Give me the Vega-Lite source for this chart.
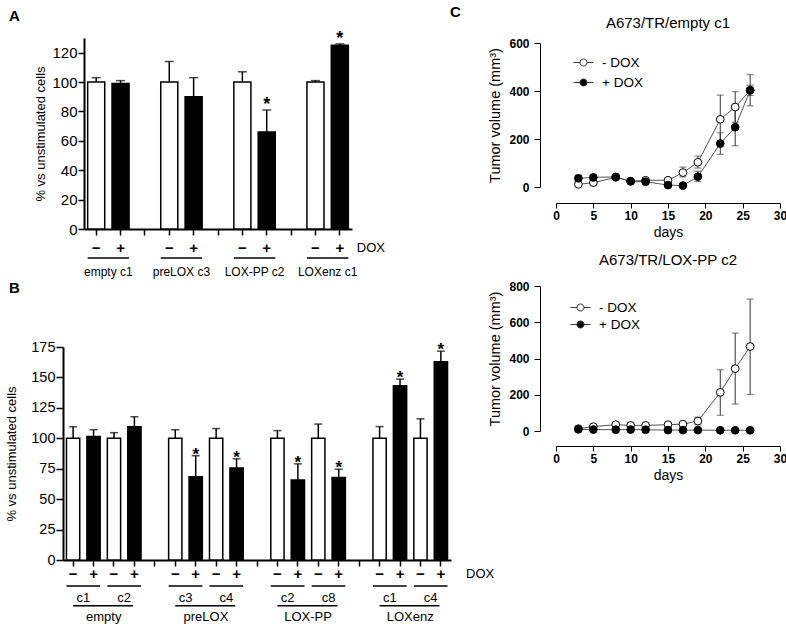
{
"$schema": "https://vega.github.io/schema/vega-lite/v6.json",
"config": {
 "font": "Liberation Sans",
 "view": {"stroke": null},
 "axis": {"grid": false, "domainColor": "black", "tickColor": "black", "labelColor": "black", "titleColor": "black", "titleFontWeight": "normal", "labelOverlap": false, "labelFlush": false, "tickCount": 30},
 "title": {"color": "black"}
},
"datasets": {
 "aBars": [
  {"slot": "e1-", "dox": "−", "mean": 100, "hi": 103, "sig": ""},
  {"slot": "e1+", "dox": "+", "mean": 99, "hi": 101, "sig": ""},
  {"slot": "p3-", "dox": "−", "mean": 100, "hi": 114, "sig": ""},
  {"slot": "p3+", "dox": "+", "mean": 90, "hi": 103, "sig": ""},
  {"slot": "x2-", "dox": "−", "mean": 100, "hi": 107, "sig": ""},
  {"slot": "x2+", "dox": "+", "mean": 66, "hi": 81, "sig": "*"},
  {"slot": "z1-", "dox": "−", "mean": 100, "hi": 101, "sig": ""},
  {"slot": "z1+", "dox": "+", "mean": 125, "hi": 126, "sig": "*"}
 ],
 "aGroups": [
  {"from": "e1-", "to": "e1+", "label": "empty c1"},
  {"from": "p3-", "to": "p3+", "label": "preLOX c3"},
  {"from": "x2-", "to": "x2+", "label": "LOX-PP c2"},
  {"from": "z1-", "to": "z1+", "label": "LOXenz c1"}
 ],
 "aDox": [{"slot": "z1+", "label": "DOX"}],
 "bBars": [
  {"slot": "E1-", "dox": "−", "mean": 100, "hi": 109.5, "sig": ""},
  {"slot": "E1+", "dox": "+", "mean": 101.5, "hi": 107, "sig": ""},
  {"slot": "E2-", "dox": "−", "mean": 100, "hi": 104.6, "sig": ""},
  {"slot": "E2+", "dox": "+", "mean": 109.5, "hi": 117.7, "sig": ""},
  {"slot": "P3-", "dox": "−", "mean": 100, "hi": 107, "sig": ""},
  {"slot": "P3+", "dox": "+", "mean": 68.5, "hi": 85.7, "sig": "*"},
  {"slot": "P4-", "dox": "−", "mean": 100, "hi": 108, "sig": ""},
  {"slot": "P4+", "dox": "+", "mean": 75.5, "hi": 83.2, "sig": "*"},
  {"slot": "L2-", "dox": "−", "mean": 100, "hi": 106.3, "sig": ""},
  {"slot": "L2+", "dox": "+", "mean": 65.8, "hi": 79, "sig": "*"},
  {"slot": "L8-", "dox": "−", "mean": 100, "hi": 111.7, "sig": ""},
  {"slot": "L8+", "dox": "+", "mean": 67.8, "hi": 74.6, "sig": "*"},
  {"slot": "Z1-", "dox": "−", "mean": 100, "hi": 109.6, "sig": ""},
  {"slot": "Z1+", "dox": "+", "mean": 143.2, "hi": 148.6, "sig": "*"},
  {"slot": "Z4-", "dox": "−", "mean": 100, "hi": 116, "sig": ""},
  {"slot": "Z4+", "dox": "+", "mean": 162.8, "hi": 171.6, "sig": "*"}
 ],
 "bClones": [
  {"from": "E1-", "to": "E1+", "label": "c1"},
  {"from": "E2-", "to": "E2+", "label": "c2"},
  {"from": "P3-", "to": "P3+", "label": "c3"},
  {"from": "P4-", "to": "P4+", "label": "c4"},
  {"from": "L2-", "to": "L2+", "label": "c2"},
  {"from": "L8-", "to": "L8+", "label": "c8"},
  {"from": "Z1-", "to": "Z1+", "label": "c1"},
  {"from": "Z4-", "to": "Z4+", "label": "c4"}
 ],
 "bGroups": [
  {"from": "E1-", "to": "E2+", "label": "empty"},
  {"from": "P3-", "to": "P4+", "label": "preLOX"},
  {"from": "L2-", "to": "L8+", "label": "LOX-PP"},
  {"from": "Z1-", "to": "Z4+", "label": "LOXenz"}
 ],
 "bDox": [{"slot": "Z4+", "label": "DOX"}],
 "c1": [
  {"day": 3, "treat": "- DOX", "mean": 11, "lo": 6, "hi": 16},
  {"day": 5, "treat": "- DOX", "mean": 18, "lo": 13, "hi": 23},
  {"day": 8, "treat": "- DOX", "mean": 40, "lo": 32, "hi": 48},
  {"day": 10, "treat": "- DOX", "mean": 24, "lo": 20, "hi": 28},
  {"day": 12, "treat": "- DOX", "mean": 28, "lo": 24, "hi": 33},
  {"day": 15, "treat": "- DOX", "mean": 28, "lo": 22, "hi": 34},
  {"day": 17, "treat": "- DOX", "mean": 60, "lo": 42, "hi": 83},
  {"day": 19, "treat": "- DOX", "mean": 103, "lo": 79, "hi": 129},
  {"day": 22, "treat": "- DOX", "mean": 282, "lo": 181, "hi": 383},
  {"day": 24, "treat": "- DOX", "mean": 333, "lo": 270, "hi": 397},
  {"day": 26, "treat": "- DOX", "mean": 403, "lo": 338, "hi": 468},
  {"day": 3, "treat": "+ DOX", "mean": 36, "lo": 23, "hi": 49},
  {"day": 5, "treat": "+ DOX", "mean": 40, "lo": 33, "hi": 47},
  {"day": 8, "treat": "+ DOX", "mean": 42, "lo": 35, "hi": 49},
  {"day": 10, "treat": "+ DOX", "mean": 24, "lo": 20, "hi": 28},
  {"day": 12, "treat": "+ DOX", "mean": 22, "lo": 17, "hi": 27},
  {"day": 15, "treat": "+ DOX", "mean": 8, "lo": 5, "hi": 11},
  {"day": 17, "treat": "+ DOX", "mean": 6, "lo": 3, "hi": 9},
  {"day": 19, "treat": "+ DOX", "mean": 43, "lo": 22, "hi": 66},
  {"day": 22, "treat": "+ DOX", "mean": 181, "lo": 136, "hi": 226},
  {"day": 24, "treat": "+ DOX", "mean": 249, "lo": 172, "hi": 326},
  {"day": 26, "treat": "+ DOX", "mean": 403, "lo": 381, "hi": 424}
 ],
 "c2": [
  {"day": 3, "treat": "- DOX", "mean": 13, "lo": 8, "hi": 18},
  {"day": 5, "treat": "- DOX", "mean": 24, "lo": 19, "hi": 29},
  {"day": 8, "treat": "- DOX", "mean": 35, "lo": 28, "hi": 42},
  {"day": 10, "treat": "- DOX", "mean": 31, "lo": 25, "hi": 37},
  {"day": 12, "treat": "- DOX", "mean": 31, "lo": 25, "hi": 37},
  {"day": 15, "treat": "- DOX", "mean": 35, "lo": 28, "hi": 42},
  {"day": 17, "treat": "- DOX", "mean": 38, "lo": 30, "hi": 46},
  {"day": 19, "treat": "- DOX", "mean": 55, "lo": 34, "hi": 76},
  {"day": 22, "treat": "- DOX", "mean": 213, "lo": 87, "hi": 338},
  {"day": 24, "treat": "- DOX", "mean": 344, "lo": 149, "hi": 540},
  {"day": 26, "treat": "- DOX", "mean": 466, "lo": 202, "hi": 728},
  {"day": 3, "treat": "+ DOX", "mean": 9, "lo": 7, "hi": 11},
  {"day": 5, "treat": "+ DOX", "mean": 8, "lo": 6, "hi": 10},
  {"day": 8, "treat": "+ DOX", "mean": 7, "lo": 5, "hi": 9},
  {"day": 10, "treat": "+ DOX", "mean": 8, "lo": 6, "hi": 10},
  {"day": 12, "treat": "+ DOX", "mean": 7, "lo": 5, "hi": 9},
  {"day": 15, "treat": "+ DOX", "mean": 5, "lo": 3, "hi": 7},
  {"day": 17, "treat": "+ DOX", "mean": 5, "lo": 3, "hi": 7},
  {"day": 19, "treat": "+ DOX", "mean": 5, "lo": 3, "hi": 7},
  {"day": 22, "treat": "+ DOX", "mean": 4, "lo": 2, "hi": 6},
  {"day": 24, "treat": "+ DOX", "mean": 4, "lo": 2, "hi": 6},
  {"day": 26, "treat": "+ DOX", "mean": 4, "lo": 2, "hi": 6}
 ]
},
"hconcat": [
 {
  "vconcat": [
   {
    "width": 268, "height": 191,
    "title": {"text": "A", "anchor": "start", "frame": "group", "dx": -75, "offset": 6, "fontSize": 15, "fontWeight": "bold"},
    "layer": [
     {"data": {"name": "aBars"},
      "mark": {"type": "bar", "stroke": "black", "strokeWidth": 1.5},
      "encoding": {
       "x": {"field": "slot", "type": "nominal", "scale": {"type": "band", "domain": ["e1-","e1+","gA1","p3-","p3+","gA2","x2-","x2+","gA3","z1-","z1+"], "paddingInner": 0.3, "paddingOuter": 0.15}, "axis": {"labels": false, "title": null, "tickSize": 6, "tickWidth": 1.5, "domainWidth": 2}},
       "y": {"field": "mean", "type": "quantitative", "scale": {"domain": [0, 130], "nice": false}, "axis": {"values": [0,20,40,60,80,100,120], "tickCount": 30, "labelOverlap": false, "labelFontSize": 15, "tickSize": 6, "tickWidth": 1.5, "labelPadding": 1, "domainWidth": 2, "title": "% vs unstimulated cells", "titleFontSize": 13, "titlePadding": 4}},
       "fill": {"field": "dox", "type": "nominal", "scale": {"domain": ["−", "+"], "range": ["white", "black"]}, "legend": null}
      }},
     {"data": {"name": "aBars"},
      "mark": {"type": "rule", "strokeWidth": 1.5, "color": "black"},
      "encoding": {"x": {"field": "slot", "type": "nominal"}, "y": {"field": "mean", "type": "quantitative"}, "y2": {"field": "hi"}}},
     {"data": {"name": "aBars"},
      "mark": {"type": "tick", "orient": "horizontal", "size": 9, "thickness": 1.5, "color": "black"},
      "encoding": {"x": {"field": "slot", "type": "nominal"}, "y": {"field": "hi", "type": "quantitative"}}},
     {"data": {"name": "aBars"},
      "transform": [{"filter": "datum.sig == '*'"}],
      "mark": {"type": "text", "fontSize": 18, "fontWeight": "bold", "baseline": "alphabetic", "color": "black"},
      "encoding": {"x": {"field": "slot", "type": "nominal"}, "y": {"field": "hi", "type": "quantitative"}, "text": {"field": "sig"}}},
     {"data": {"name": "aBars"},
      "mark": {"type": "text", "fontSize": 15, "fontWeight": "bold", "baseline": "middle", "color": "black"},
      "encoding": {"x": {"field": "slot", "type": "nominal"}, "y": {"datum": -13, "type": "quantitative"}, "text": {"field": "dox"}}},
     {"data": {"name": "aDox"},
      "mark": {"type": "text", "fontSize": 13, "align": "left", "baseline": "middle", "color": "black"},
      "encoding": {"x": {"field": "slot", "type": "nominal", "bandPosition": 1.5}, "y": {"datum": -13, "type": "quantitative"}, "text": {"field": "label"}}},
     {"data": {"name": "aGroups"},
      "mark": {"type": "rule", "strokeWidth": 1.5, "color": "black"},
      "encoding": {"x": {"field": "from", "type": "nominal", "bandPosition": 0}, "x2": {"field": "to", "bandPosition": 1}, "y": {"datum": -19.7, "type": "quantitative"}}},
     {"data": {"name": "aGroups"},
      "mark": {"type": "text", "fontSize": 12, "baseline": "middle", "color": "black"},
      "encoding": {"x": {"field": "from", "type": "nominal", "bandPosition": 1.214}, "y": {"datum": -29, "type": "quantitative"}, "text": {"field": "label"}}}
    ]
   },
   {
    "width": 367, "height": 213,
    "title": {"text": "B", "anchor": "start", "frame": "group", "dx": -75, "offset": 43, "fontSize": 15, "fontWeight": "bold"},
    "layer": [
     {"data": {"name": "bBars"},
      "mark": {"type": "bar", "stroke": "black", "strokeWidth": 1.5},
      "encoding": {
       "x": {"field": "slot", "type": "nominal", "scale": {"type": "band", "domain": ["E1-","E1+","E2-","E2+","gB1","P3-","P3+","P4-","P4+","gB2","L2-","L2+","L8-","L8+","gB3","Z1-","Z1+","Z4-","Z4+"], "range": [-21, 367], "paddingInner": 0.35, "paddingOuter": 0.17}, "axis": {"labels": false, "title": null, "tickSize": 6, "tickWidth": 1.5, "domainWidth": 2}},
       "y": {"field": "mean", "type": "quantitative", "scale": {"domain": [0, 175], "nice": false}, "axis": {"values": [0,25,50,75,100,125,150,175], "tickCount": 30, "labelOverlap": false, "offset": 21, "labelFontSize": 14.5, "tickSize": 7, "tickWidth": 1.5, "labelPadding": 1, "domainWidth": 2, "title": "% vs unstimulated cells", "titleFontSize": 13, "titlePadding": 12}},
       "fill": {"field": "dox", "type": "nominal", "scale": {"domain": ["−", "+"], "range": ["white", "black"]}, "legend": null}
      }},
     {"data": {"name": "bBars"},
      "mark": {"type": "rule", "strokeWidth": 1.5, "color": "black"},
      "encoding": {"x": {"field": "slot", "type": "nominal"}, "y": {"field": "mean", "type": "quantitative"}, "y2": {"field": "hi"}}},
     {"data": {"name": "bBars"},
      "mark": {"type": "tick", "orient": "horizontal", "size": 8, "thickness": 1.5, "color": "black"},
      "encoding": {"x": {"field": "slot", "type": "nominal"}, "y": {"field": "hi", "type": "quantitative"}}},
     {"data": {"name": "bBars"},
      "transform": [{"filter": "datum.sig == '*'"}],
      "mark": {"type": "text", "fontSize": 17, "fontWeight": "bold", "baseline": "alphabetic", "dy": 4, "color": "black"},
      "encoding": {"x": {"field": "slot", "type": "nominal"}, "y": {"field": "hi", "type": "quantitative"}, "text": {"field": "sig"}}},
     {"data": {"name": "bBars"},
      "mark": {"type": "text", "fontSize": 15, "fontWeight": "bold", "baseline": "middle", "color": "black"},
      "encoding": {"x": {"field": "slot", "type": "nominal"}, "y": {"datum": -11.5, "type": "quantitative"}, "text": {"field": "dox"}}},
     {"data": {"name": "bDox"},
      "mark": {"type": "text", "fontSize": 13, "align": "left", "baseline": "middle", "color": "black"},
      "encoding": {"x": {"field": "slot", "type": "nominal", "bandPosition": 2.4}, "y": {"datum": -11.5, "type": "quantitative"}, "text": {"field": "label"}}},
     {"data": {"name": "bClones"},
      "mark": {"type": "rule", "strokeWidth": 1.5, "color": "black"},
      "encoding": {"x": {"field": "from", "type": "nominal", "bandPosition": 0}, "x2": {"field": "to", "bandPosition": 1}, "y": {"datum": -21.4, "type": "quantitative"}}},
     {"data": {"name": "bClones"},
      "mark": {"type": "text", "fontSize": 13, "baseline": "middle", "color": "black"},
      "encoding": {"x": {"field": "from", "type": "nominal", "bandPosition": 1.269}, "y": {"datum": -31.5, "type": "quantitative"}, "text": {"field": "label"}}},
     {"data": {"name": "bGroups"},
      "mark": {"type": "rule", "strokeWidth": 1.5, "color": "black"},
      "encoding": {"x": {"field": "from", "type": "nominal", "bandPosition": 0.5}, "x2": {"field": "to", "bandPosition": 0.4}, "y": {"datum": -37.5, "type": "quantitative"}}},
     {"data": {"name": "bGroups"},
      "mark": {"type": "text", "fontSize": 13, "baseline": "middle", "color": "black"},
      "encoding": {"x": {"field": "from", "type": "nominal", "bandPosition": 2.808}, "y": {"datum": -47, "type": "quantitative"}, "text": {"field": "label"}}}
    ]
   }
  ],
  "spacing": 3,
  "resolve": {"scale": {"fill": "independent"}, "legend": {"fill": "independent"}}
 },
 {
  "title": {"text": "C", "anchor": "start", "dx": -38, "offset": -4, "fontSize": 15, "fontWeight": "bold"},
  "vconcat": [
   {
    "width": 224, "height": 149,
    "title": {"text": "A673/TR/empty c1", "fontSize": 15, "fontWeight": "normal", "offset": 6},
    "data": {"name": "c1"},
    "layer": [
     {"mark": {"type": "rule", "color": "#333", "strokeWidth": 1},
      "encoding": {
       "x": {"field": "day", "type": "quantitative", "scale": {"domain": [0, 30], "nice": false}, "axis": {"values": [0,5,10,15,20,25,30], "tickCount": 30, "labelOverlap": false, "labelFlush": false, "offset": 16, "tickSize": 5, "labelFontSize": 12, "labelFontWeight": "bold", "title": "days", "titleFontSize": 14, "titlePadding": 4}},
       "y": {"field": "lo", "type": "quantitative", "scale": {"domain": [0, 600], "nice": false, "range": [149, 5]}, "axis": {"values": [0,200,400,600], "tickCount": 30, "labelOverlap": false, "offset": 16, "tickSize": 6, "labelFontSize": 12, "labelFontWeight": "bold", "labelPadding": 5, "title": "Tumor volume (mm³)", "titleFontSize": 14.5, "titlePadding": 6}},
       "y2": {"field": "hi"}}},
     {"mark": {"type": "tick", "orient": "horizontal", "size": 7, "thickness": 1, "color": "#333"},
      "encoding": {"x": {"field": "day", "type": "quantitative"}, "y": {"field": "lo", "type": "quantitative"}}},
     {"mark": {"type": "tick", "orient": "horizontal", "size": 7, "thickness": 1, "color": "#333"},
      "encoding": {"x": {"field": "day", "type": "quantitative"}, "y": {"field": "hi", "type": "quantitative"}}},
     {"mark": {"type": "line", "color": "#555", "strokeWidth": 1},
      "encoding": {"x": {"field": "day", "type": "quantitative"}, "y": {"field": "mean", "type": "quantitative"}, "detail": {"field": "treat"}}},
     {"mark": {"type": "point", "shape": "circle", "size": 60, "filled": true, "stroke": "black", "strokeWidth": 1, "opacity": 1},
      "encoding": {"x": {"field": "day", "type": "quantitative"}, "y": {"field": "mean", "type": "quantitative"},
       "fill": {"field": "treat", "type": "nominal", "scale": {"domain": ["- DOX", "+ DOX"], "range": ["white", "black"]},
        "legend": {"orient": "top-left", "title": null, "offset": 14, "padding": 0, "symbolOffset": 3, "symbolType": "M-1,0H-0.35M0.35,0H1M0.35,0A0.35,0.35,0,1,1,-0.35,0A0.35,0.35,0,1,1,0.35,0Z", "symbolSize": 400, "symbolStrokeWidth": 1, "symbolStrokeColor": "#333", "labelFontSize": 13.5, "labelOffset": 8, "rowPadding": 3}}}}
    ]
   },
   {
    "width": 224, "height": 145,
    "title": {"text": "A673/TR/LOX-PP c2", "fontSize": 15, "fontWeight": "normal", "offset": 12},
    "data": {"name": "c2"},
    "layer": [
     {"mark": {"type": "rule", "color": "#333", "strokeWidth": 1},
      "encoding": {
       "x": {"field": "day", "type": "quantitative", "scale": {"domain": [0, 30], "nice": false}, "axis": {"values": [0,5,10,15,20,25,30], "tickCount": 30, "labelOverlap": false, "labelFlush": false, "offset": 15, "tickSize": 5, "labelFontSize": 12, "labelFontWeight": "bold", "title": "days", "titleFontSize": 14, "titlePadding": 4}},
       "y": {"field": "lo", "type": "quantitative", "scale": {"domain": [0, 800], "nice": false}, "axis": {"values": [0,200,400,600,800], "tickCount": 30, "labelOverlap": false, "offset": 16, "tickSize": 6, "labelFontSize": 12, "labelFontWeight": "bold", "labelPadding": 5, "title": "Tumor volume (mm³)", "titleFontSize": 14.5, "titlePadding": 6}},
       "y2": {"field": "hi"}}},
     {"mark": {"type": "tick", "orient": "horizontal", "size": 7, "thickness": 1, "color": "#333"},
      "encoding": {"x": {"field": "day", "type": "quantitative"}, "y": {"field": "lo", "type": "quantitative"}}},
     {"mark": {"type": "tick", "orient": "horizontal", "size": 7, "thickness": 1, "color": "#333"},
      "encoding": {"x": {"field": "day", "type": "quantitative"}, "y": {"field": "hi", "type": "quantitative"}}},
     {"mark": {"type": "line", "color": "#555", "strokeWidth": 1},
      "encoding": {"x": {"field": "day", "type": "quantitative"}, "y": {"field": "mean", "type": "quantitative"}, "detail": {"field": "treat"}}},
     {"mark": {"type": "point", "shape": "circle", "size": 60, "filled": true, "stroke": "black", "strokeWidth": 1, "opacity": 1},
      "encoding": {"x": {"field": "day", "type": "quantitative"}, "y": {"field": "mean", "type": "quantitative"},
       "fill": {"field": "treat", "type": "nominal", "scale": {"domain": ["- DOX", "+ DOX"], "range": ["white", "black"]},
        "legend": {"orient": "top-left", "title": null, "offset": 11, "padding": 0, "symbolOffset": 3, "symbolType": "M-1,0H-0.35M0.35,0H1M0.35,0A0.35,0.35,0,1,1,-0.35,0A0.35,0.35,0,1,1,0.35,0Z", "symbolSize": 400, "symbolStrokeWidth": 1, "symbolStrokeColor": "#333", "labelFontSize": 13.5, "labelOffset": 8, "rowPadding": 0}}}}
    ]
   }
  ],
  "spacing": 14,
  "resolve": {"scale": {"fill": "independent"}, "legend": {"fill": "independent"}}
 }
],
"spacing": -46,
"resolve": {"scale": {"fill": "independent"}, "legend": {"fill": "independent"}}
}
